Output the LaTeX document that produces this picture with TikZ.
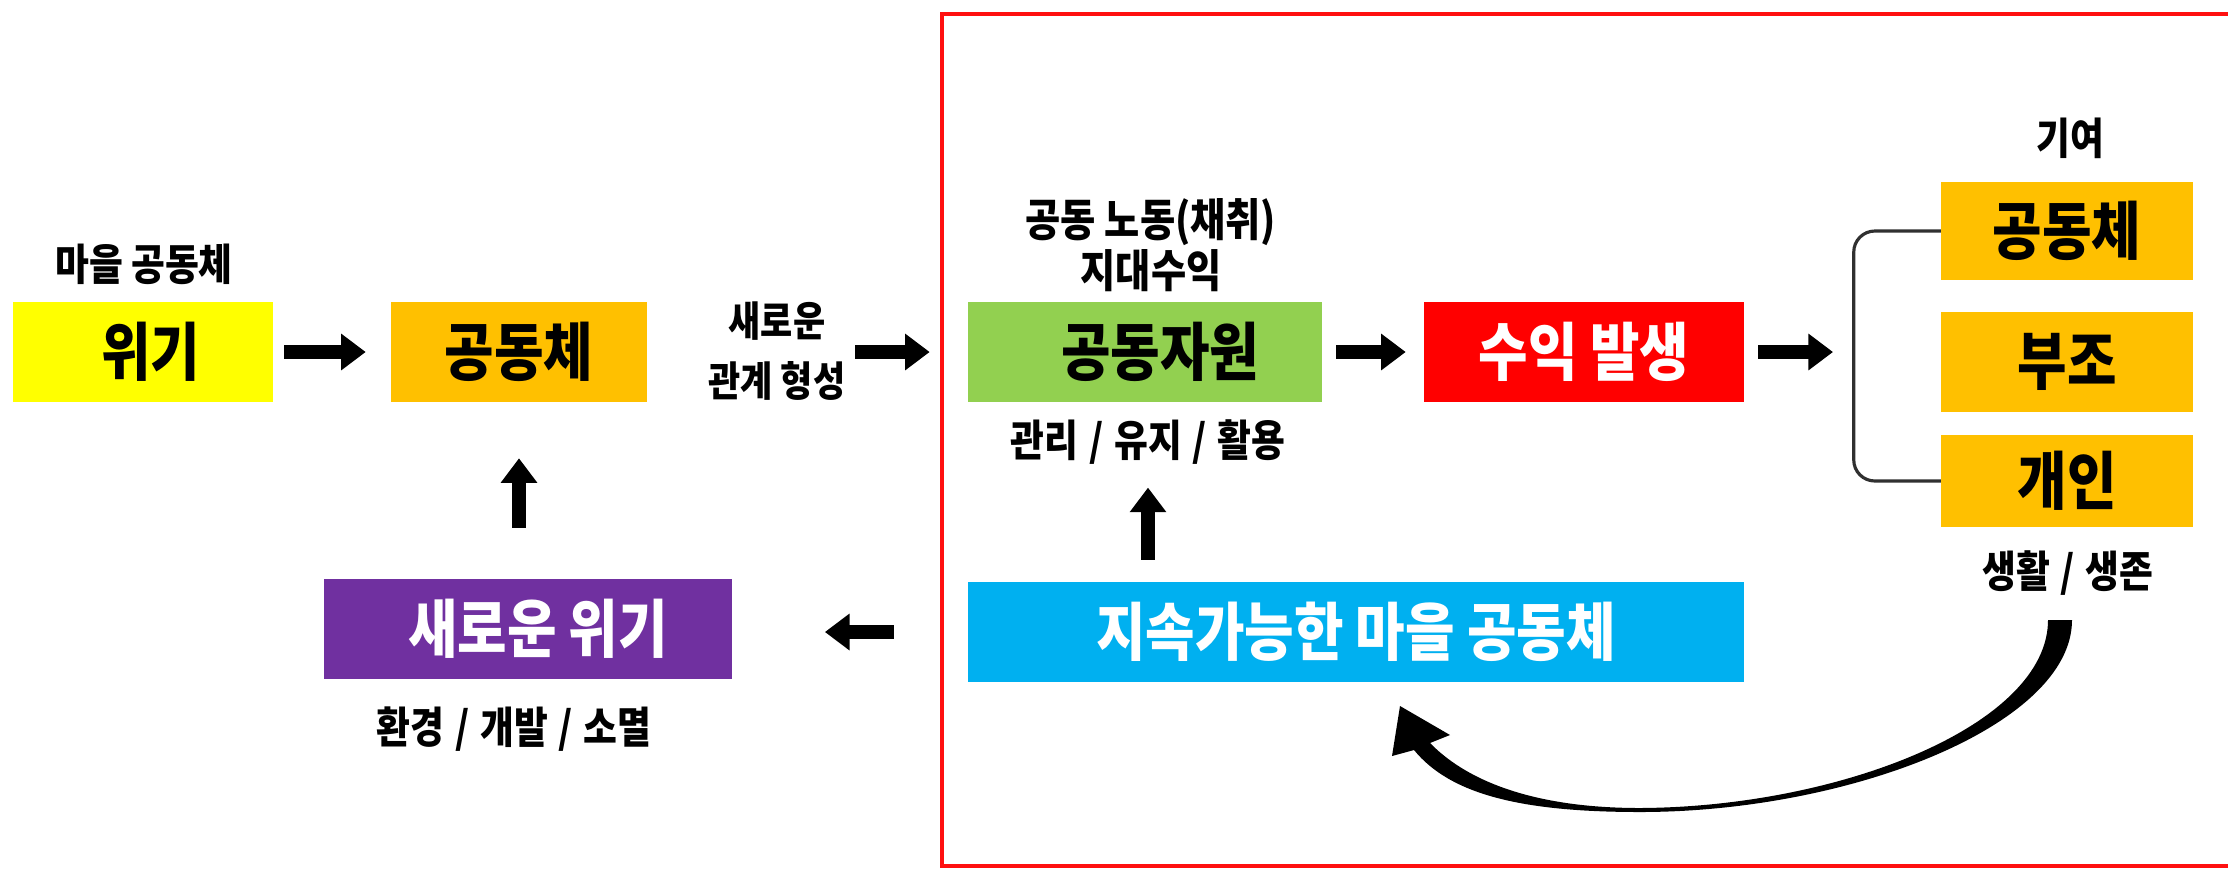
\documentclass[tikz,border=0pt]{standalone}
\usepackage{fontspec}
\setmainfont{Noto Sans CJK KR}[FakeStretch=0.85]
\usetikzlibrary{%
  calc,%
  arrows.meta%
}
\definecolor{wgyellow}{HTML}{FFFF00}
\definecolor{gdgold}{HTML}{FFC000}
\definecolor{resgreen}{HTML}{92D050}
\definecolor{revred}{HTML}{FF0000}
\definecolor{suscyan}{HTML}{00B0F0}
\definecolor{crpurple}{HTML}{7030A0}
\definecolor{frred}{HTML}{FF1010}
\definecolor{brgray}{HTML}{303030}
\newcommand\slsh{\hspace{0.25em}/\hspace{0.25em}}

\begin{document}
\begin{tikzpicture}[x=0.01cm,y=-0.01cm,
  box/.style={minimum height=0.99cm,inner sep=0pt,font=\fontsize{18}{20}\selectfont\bfseries},
  lbl/.style={inner sep=1pt,align=center,font=\fontsize{12.3}{14}\selectfont\bfseries},
  blk/.style={line width=4.2pt,-{Triangle[length=7pt,width=10pt]}}]
\useasboundingbox (0,0) rectangle (2228,872);
\draw[frred,line width=1.4pt] (2232,14) -| (942,866) -- (2232,866);

\node[box,fill=wgyellow,minimum width=2.59cm] (wg) at (143,352) {\hspace{0.15cm}위기};
\node[lbl] (vil) at (144,264) {마을 공동체};
\node[box,fill=gdgold,minimum width=2.55cm] (gd) at (519,352) {공동체};
\node[lbl,font=\fontsize{11.7}{17}\selectfont\bfseries] (rel) at (777,351) {새로운\\관계 형성};

\node[box,fill=resgreen,minimum width=3.53cm] (res) at (1145,352) {\hspace{0.3cm}공동자원};
\node[lbl,font=\fontsize{12.8}{12.2}\selectfont\bfseries] (lab) at (1151,245) {공동 노동(채취)\\지대수익};
\node[lbl] (mng) at (1148,442) {관리\slsh 유지\slsh 활용};
\node[box,fill=revred,text=white,minimum width=3.19cm] (rev) at (1584,352) {수익 발생};

\node[box,fill=gdgold,minimum width=2.51cm,minimum height=0.97cm] (rc) at (2067,231) {공동체};
\node[box,fill=gdgold,minimum width=2.51cm] (rb) at (2067,362) {부조};
\node[box,fill=gdgold,minimum width=2.51cm,minimum height=0.92cm] (ri) at (2067,481) {개인};
\node[lbl] (ctb) at (2070,138) {기여};
\node[lbl] (liv) at (2068,573) {생활\slsh 생존};

\node[box,fill=suscyan,text=white,minimum width=7.75cm] (sus) at (1356,632) {지속가능한 마을 공동체};
\node[box,fill=crpurple,text=white,minimum width=4.08cm] (cr) at (528,629) {\hspace{0.2cm}새로운 위기};
\node[lbl] (env) at (514,729) {환경\slsh 개발\slsh 소멸};

\coordinate (brk) at (1855,352);
\draw[brgray,line width=0.9pt,rounded corners=6pt] (rc.west) -- ++(-87,0) |- (ri.west);

\draw[blk,shorten <=0.11cm,shorten >=0.25cm] (wg) -- (gd);
\draw[blk,shorten <=2.08cm,shorten >=0.38cm] (gd) -- (res);
\draw[blk,shorten <=0.14cm,shorten >=0.18cm] (res) -- (rev);
\draw[blk,shorten <=0.14cm,shorten >=0.22cm] (rev) -- (brk);
\draw[blk,shorten <=0.22cm,shorten >=0.19cm] (sus.north -| mng) -- (mng.south);
\draw[blk,shorten <=0.74cm,shorten >=0.92cm] (sus.west) -- (sus.west -| cr.east);
\draw[blk,shorten <=0.51cm,shorten >=0.56cm] (cr.north -| gd) -- (gd.south);

\fill (2048,620) .. controls (2048,725) and (1840,807) .. (1640,808)
  .. controls (1540,808) and (1470,784) .. (1430,743) -- (1450,735) -- (1400,706)
  -- (1392,756) -- (1414,750) .. controls (1450,794) and (1520,812) .. (1640,812)
  .. controls (1850,812) and (2072,725) .. (2072,620) -- cycle;
\end{tikzpicture}
\end{document}
